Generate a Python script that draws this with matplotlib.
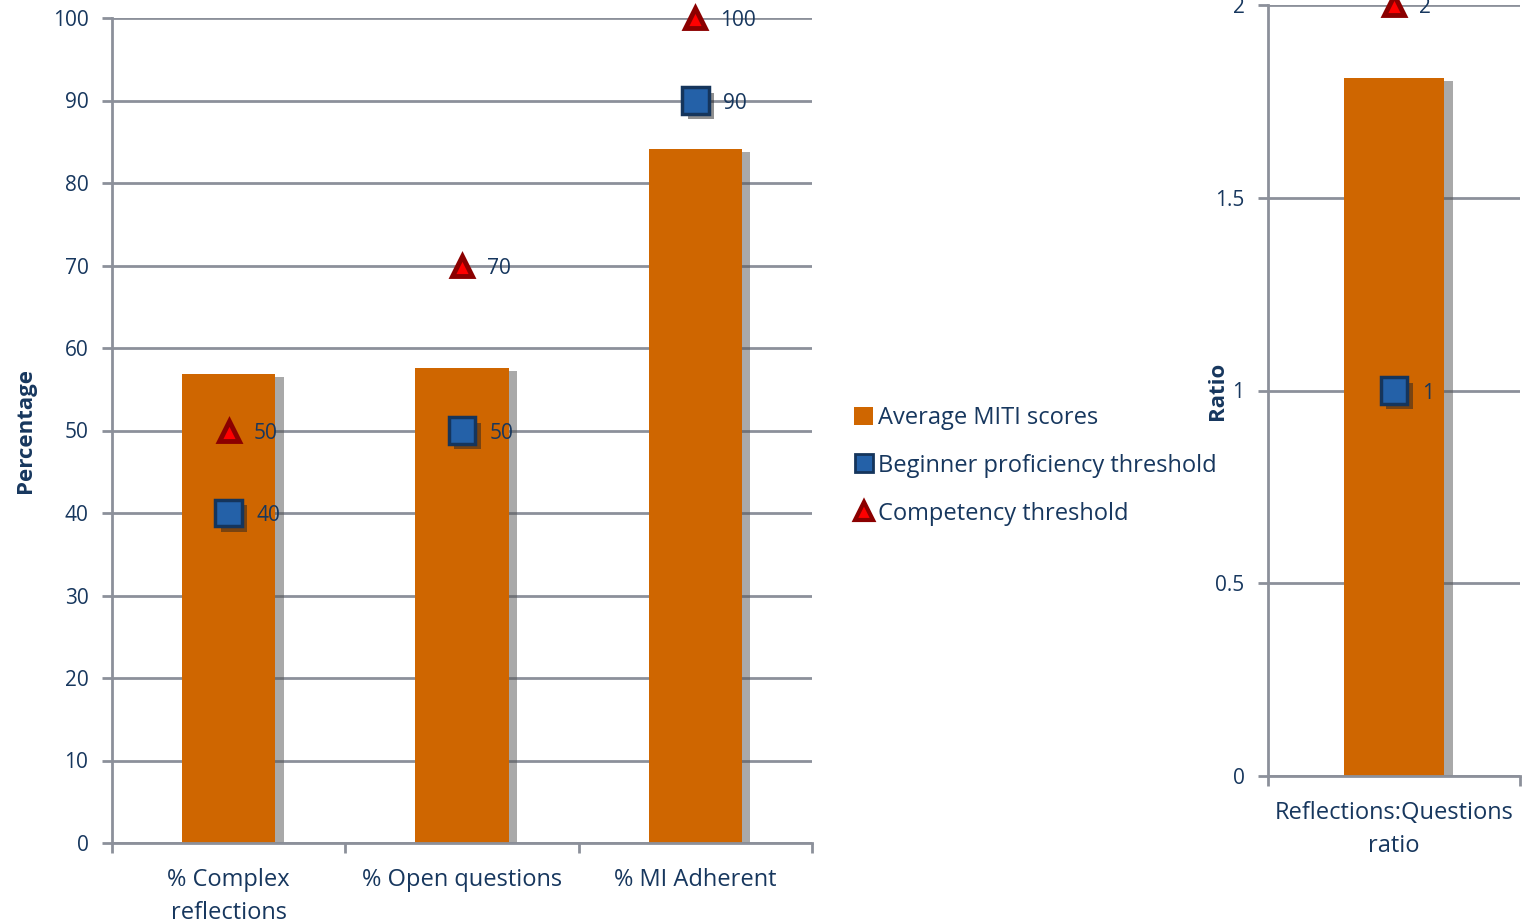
import matplotlib
matplotlib.use('Agg')
import matplotlib.pyplot as plt
import matplotlib.patheffects as pe
from matplotlib.lines import Line2D
from matplotlib.patches import Patch

plt.rcParams['font.family'] = ['Open Sans', 'DejaVu Sans']

# data
categories = ['% Complex\nreflections', '% Open questions', '% MI Adherent']
avg_scores = [56.8, 57.6, 84.1]
beginner = [40, 50, 90]
competency = [50, 70, 100]

ratio_cat = ['Reflections:Questions\nratio']
ratio_avg = [1.81]
ratio_beginner = [1]
ratio_competency = [2]

txt = '#17375E'
grid = '#8C909A'
orange = '#CF6600'
blue = '#2461A8'
navy = '#15355C'

fig = plt.figure(figsize=(15.26, 9.24), dpi=100)
ax1 = fig.add_axes([112/1526, 1-843/924, 700/1526, 825/924])
ax2 = fig.add_axes([1268/1526, 1-776/924, 252/1526, 771/924])

bar_fx = [pe.SimplePatchShadow(offset=(6, -2), shadow_rgbFace='#555555', alpha=0.5), pe.Normal()]
mk_fx = [pe.SimplePatchShadow(offset=(4, -4), shadow_rgbFace='#222222', alpha=0.5), pe.Normal()]


def draw(ax, cats, avg, beg, comp, ymax, step, fmt):
    x = list(range(len(cats)))
    ax.bar(x, avg, width=0.4, color=orange, zorder=2, path_effects=bar_fx)
    ax.plot(x, beg, ls='none', marker='s', ms=19, mfc=blue, mec=navy, mew=2.5,
            zorder=4, path_effects=mk_fx, clip_on=False)
    ax.plot(x, comp, ls='none', marker='^', ms=15, mfc='#FF0000', mec='#8B0000', mew=3.5,
            zorder=4, clip_on=False)
    for xi, v in zip(x, beg):
        ax.annotate(fmt(v), (xi, v), xytext=(20, -2), textcoords='offset points',
                    va='center', ha='left', color=txt, fontsize=15, zorder=5)
    for xi, v in zip(x, comp):
        ax.annotate(fmt(v), (xi, v), xytext=(18, -2), textcoords='offset points',
                    va='center', ha='left', color=txt, fontsize=15, zorder=5)
    ax.set_xlim(-0.5, len(cats) - 0.5)
    ax.set_ylim(0, ymax)
    yt = [i * step for i in range(int(round(ymax / step)) + 1)]
    ax.set_yticks(yt)
    ax.set_yticklabels([fmt(v) for v in yt])
    ax.set_xticks(x)
    ax.set_xticklabels(cats, linespacing=1.5)
    ax.set_xticks([i - 0.5 for i in range(len(cats) + 1)], minor=True)
    ax.tick_params(axis='x', which='major', length=0, pad=18, labelsize=17, labelcolor=txt)
    ax.tick_params(axis='x', which='minor', length=7, width=2, color=grid, direction='out')
    ax.tick_params(axis='y', length=7, width=2, color=grid, pad=10, labelsize=15, labelcolor=txt)
    ax.yaxis.grid(True, color=grid, lw=2, zorder=0)
    ax.set_axisbelow(True)
    for s in ['top', 'right']:
        ax.spines[s].set_visible(False)
    for s in ['left', 'bottom']:
        ax.spines[s].set_color(grid)
        ax.spines[s].set_linewidth(2)


def fmt_int(v):
    return '%d' % v


def fmt_ratio(v):
    return ('%g' % v)


draw(ax1, categories, avg_scores, beginner, competency, 100, 10, fmt_int)
draw(ax2, ratio_cat, ratio_avg, ratio_beginner, ratio_competency, 2, 0.5, fmt_ratio)

ax1.set_ylabel('Percentage', color=txt, fontsize=16, fontweight='bold')
ax1.yaxis.set_label_coords(-0.108, 0.5)
ax2.set_ylabel('Ratio', color=txt, fontsize=16, fontweight='bold')
ax2.yaxis.set_label_coords(-0.16, 0.5)

handles = [
    Patch(facecolor=orange, edgecolor='none'),
    Line2D([], [], ls='none', marker='s', ms=13, mfc=blue, mec=navy, mew=2),
    Line2D([], [], ls='none', marker='^', ms=13, mfc='#FF0000', mec='#8B0000', mew=3),
]
labels = ['Average MITI scores', 'Beginner proficiency threshold', 'Competency threshold']
leg = fig.legend(handles, labels, loc='center left', bbox_to_anchor=(845/1526, 1-466/924),
                 frameon=False, fontsize=17, handlelength=0.8, handleheight=0.8,
                 handletextpad=0.2, labelspacing=1.02, borderaxespad=0)
for t in leg.get_texts():
    t.set_color(txt)

fig.savefig('out.png', dpi=100)
